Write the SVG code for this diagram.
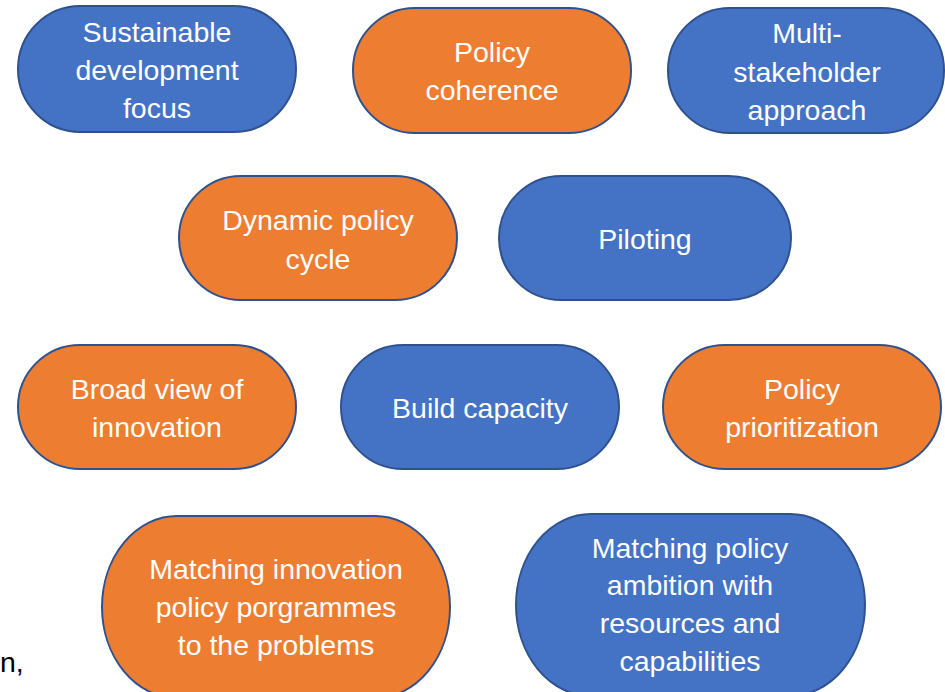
<svg xmlns="http://www.w3.org/2000/svg" width="945" height="692" viewBox="0 0 945 692">
<style>
.n{stroke:#2F528F;stroke-width:2}
.b{fill:#4472C4}
.o{fill:#ED7D31}
text{font-family:"Liberation Sans",Arial,sans-serif;font-size:28.5px;fill:#fff;text-anchor:middle}
.k{fill:#000;text-anchor:start}
</style>
<rect width="945" height="692" fill="#fff"/>
<g id="connectors"/>
<g id="n1"><rect class="n b" x="18" y="6" width="278" height="126" rx="62" ry="63"/>
<text x="157" y="42">Sustainable</text><text x="157" y="80">development</text><text x="157" y="118">focus</text></g>
<g id="n2"><rect class="n o" x="353" y="8" width="278" height="125" rx="62" ry="62"/>
<text x="492" y="62">Policy</text><text x="492" y="100">coherence</text></g>
<g id="n3"><rect class="n b" x="668" y="8" width="276" height="125" rx="62" ry="62"/>
<text x="807" y="43">Multi-</text><text x="807" y="82">stakeholder</text><text x="807" y="120">approach</text></g>
<g id="n4"><rect class="n o" x="179" y="176" width="278" height="124" rx="62" ry="62"/>
<text x="318" y="230">Dynamic policy</text><text x="318" y="269">cycle</text></g>
<g id="n5"><rect class="n b" x="499" y="176" width="292" height="124" rx="62" ry="62"/>
<text x="645" y="249">Piloting</text></g>
<g id="n6"><rect class="n o" x="18" y="345" width="278" height="124" rx="62" ry="62"/>
<text x="157" y="399">Broad view of</text><text x="157" y="437">innovation</text></g>
<g id="n7"><rect class="n b" x="341" y="345" width="278" height="124" rx="62" ry="62"/>
<text x="480" y="418">Build capacity</text></g>
<g id="n8"><rect class="n o" x="663" y="345" width="278" height="124" rx="62" ry="62"/>
<text x="802" y="399">Policy</text><text x="802" y="437">prioritization</text></g>
<g id="n9"><rect class="n o" x="102" y="516" width="348" height="182" rx="75" ry="91"/>
<text x="276" y="579">Matching innovation</text><text x="276" y="617">policy porgrammes</text><text x="276" y="655">to the problems</text></g>
<g id="n10"><rect class="n b" x="516" y="514" width="349" height="182" rx="75" ry="91"/>
<text x="690" y="558">Matching policy</text><text x="690" y="595">ambition with</text><text x="690" y="633">resources and</text><text x="690" y="671">capabilities</text></g>
<text class="k" x="0" y="672">n,</text>
</svg>
